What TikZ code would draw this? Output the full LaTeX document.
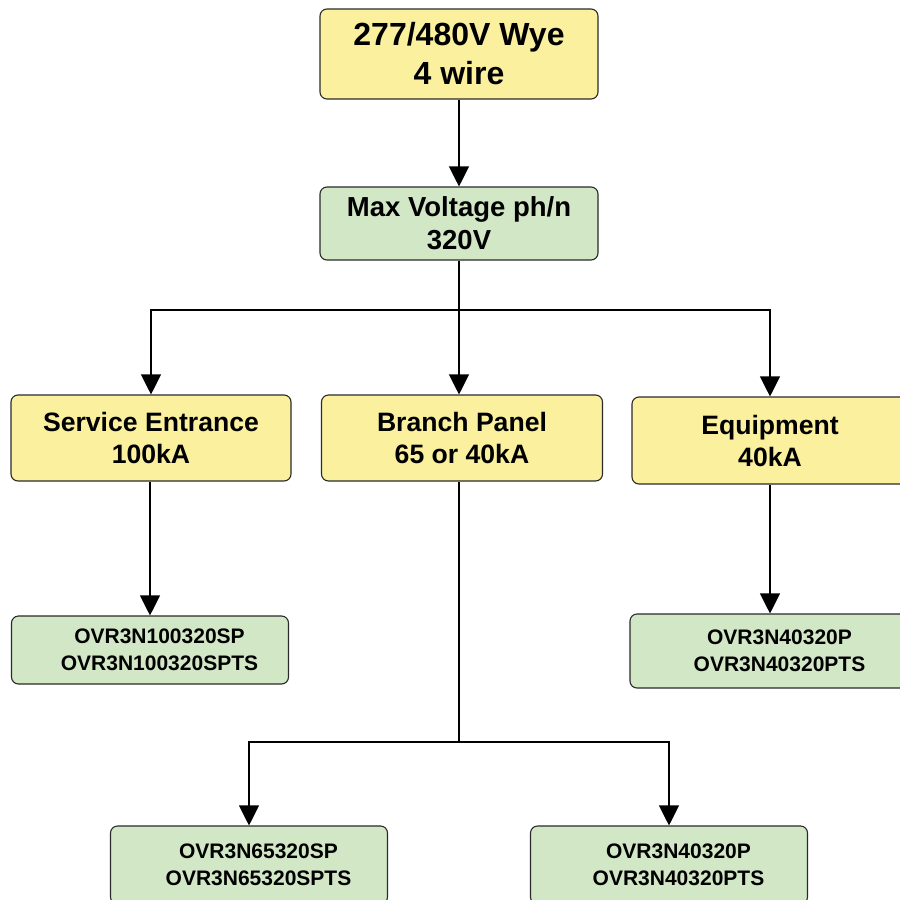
\documentclass[tikz,border=0pt]{standalone}
\usepackage{fontspec}
\setmainfont{Liberation Sans}
\usetikzlibrary{arrows.meta}
\definecolor{boxyellow}{HTML}{FAF09E}
\definecolor{boxgreen}{HTML}{D2E7C6}
\definecolor{boxline}{HTML}{2A2A2A}
\begin{document}
\begin{tikzpicture}[x=1pt,y=-1pt,
  box/.style={draw=boxline,line width=1.1pt,rounded corners=7pt,align=center,inner sep=0pt,font=\bfseries},
  ybox/.style={box,fill=boxyellow},
  gbox/.style={box,fill=boxgreen},
  bigtxt/.style={font=\bfseries\fontsize{32}{39}\selectfont},
  midtxt/.style={font=\bfseries\fontsize{26.6}{32}\selectfont},
  mvtxt/.style={font=\bfseries\fontsize{27.5}{33}\selectfont},
  smalltxt/.style={font=\bfseries\fontsize{21}{26.5}\selectfont,align=center,inner sep=0pt,xshift=9.5pt},
  conn/.style={line width=1.1pt,draw=black},
  arr/.style={conn,-{Triangle[width=20pt,length=20pt]}}]
\useasboundingbox (0,0) rectangle (900,900);
\clip (0,0) rectangle (900,900);
\node[ybox,bigtxt,minimum width=278pt,minimum height=90pt] (top) at (459,54) {277/480V Wye\\4 wire};
\node[gbox,mvtxt,minimum width=278pt,minimum height=73pt] (mv) at (459,223.5) {Max Voltage ph/n\\320V};
\node[ybox,midtxt,minimum width=280pt,minimum height=86pt] (se) at (151,438) {Service Entrance\\100kA};
\node[ybox,midtxt,minimum width=281pt,minimum height=86pt] (bp) at (462,438) {Branch Panel\\65 or 40kA};
\node[ybox,midtxt,minimum width=276pt,minimum height=87pt] (eq) at (770,440.5) {Equipment\\40kA};
\node[gbox,minimum width=277pt,minimum height=68pt,
  label={[smalltxt]center:{OVR3N100320SP\\OVR3N100320SPTS}}] (p1) at (150,650) {};
\node[gbox,minimum width=280pt,minimum height=74pt,
  label={[smalltxt]center:{OVR3N40320P\\OVR3N40320PTS}}] (p3) at (770,651) {};
\node[gbox,minimum width=277pt,minimum height=78pt,
  label={[smalltxt]center:{OVR3N65320SP\\OVR3N65320SPTS}}] (p2) at (249,865) {};
\node[gbox,minimum width=277pt,minimum height=78pt,
  label={[smalltxt]center:{OVR3N40320P\\OVR3N40320PTS}}] (p4) at (669,865) {};
\draw[arr] (top.south) -- (mv.north);
\draw[conn] (mv.south) -- (459,310) coordinate (j1);
\draw[arr] (j1) -| (se.north);
\draw[arr] (j1) -| (eq.north);
\draw[arr] (j1) -- (bp.north -| j1);
\draw[arr] (se.south -| p1.north) -- (p1.north);
\draw[arr] (eq.south) -- (p3.north);
\draw[conn] (bp.south -| j1) -- (459,742) coordinate (j2);
\draw[arr] (j2) -| (p2.north);
\draw[arr] (j2) -| (p4.north);
\end{tikzpicture}
\end{document}
